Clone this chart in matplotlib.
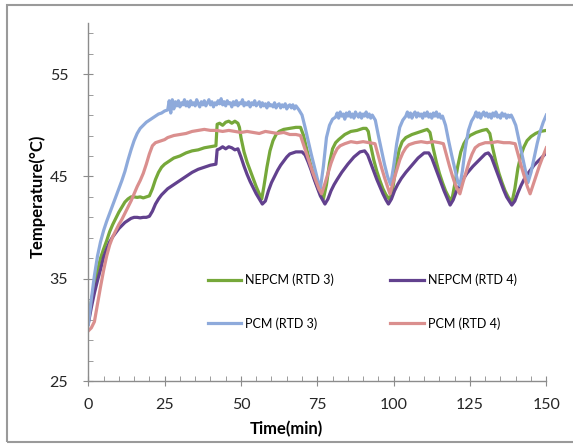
import matplotlib.pyplot as plt
from matplotlib.patches import Rectangle

# PCM (RTD 3) - blue, noisy plateaus, kept in segments
t_pcm3_rise = [0, 1, 2, 3, 4, 5, 6, 7, 8, 9, 10, 11, 12, 13, 14, 15, 16, 17, 18, 19, 20,
               21, 22, 23, 24, 25, 26, 26.5, 27, 27.5]
T_pcm3_rise = [30.5, 33.0, 35.3, 37.2, 38.6, 39.7, 40.6, 41.4, 42.2, 43.0, 43.8, 44.6, 45.5,
               46.6, 47.6, 48.5, 49.2, 49.7, 50.0, 50.3, 50.5,
               50.7, 50.9, 51.1, 51.2, 51.4, 51.5, 52.4, 51.2, 52.5]

t_pcm3_p1 = [28, 28.5, 29, 29.5, 30, 30.5, 31, 31.5, 32, 32.5,
             33, 33.5, 34, 34.5, 35, 35.5, 36, 36.5, 37, 37.5,
             38, 38.5, 39, 39.5, 40, 40.5, 41, 41.5, 42, 42.5,
             43, 43.5, 44, 44.5, 45, 45.5, 46, 46.5, 47, 47.5,
             48, 48.5, 49, 49.5, 50, 50.5, 51, 51.5, 52, 52.5,
             53, 53.5, 54, 54.5, 55, 55.5, 56, 56.5, 57, 57.5,
             58, 58.5, 59, 59.5, 60, 60.5, 61, 61.5, 62, 62.5,
             63, 63.5, 64, 64.5, 65, 65.5, 66, 66.5, 67, 67.5,
             68, 68.5, 69]
T_pcm3_p1 = [51.6, 52.3, 51.9, 52.4, 51.8, 52.2, 52.0, 52.5, 51.9, 52.3,
             51.8, 52.4, 52.0, 52.2, 51.9, 52.5, 52.1, 51.8, 52.3, 52.0,
             52.4, 51.9, 52.2, 52.5, 52.0, 52.3, 51.8, 52.2, 52.0, 52.4,
             52.1, 52.6, 52.0, 52.3, 51.9, 52.4, 52.1, 52.2, 51.8, 52.3,
             52.0, 52.4, 51.9, 52.2, 52.1, 52.5, 51.9, 52.2, 52.0, 52.3,
             51.8, 52.2, 52.0, 52.4, 51.9, 52.1, 52.3, 51.8, 52.2, 51.9,
             52.1, 51.7, 52.2, 51.9, 52.0, 51.8, 52.2, 51.7, 52.0, 52.1,
             51.7, 52.0, 51.8, 52.1, 51.6, 51.9, 52.0, 51.7, 52.0, 51.6,
             51.9, 51.7, 51.5]

t_pcm3_c1 = [70, 71, 72, 73, 74, 75, 76, 77, 78, 79, 80]
T_pcm3_c1 = [51.0, 49.8, 48.5, 47.2, 46.0, 44.8, 43.8, 46.0, 48.8, 50.0, 50.6]

t_pcm3_p2 = [81, 81.5, 82, 82.5, 83, 83.5, 84, 84.5, 85, 85.5,
             86, 86.5, 87, 87.5, 88, 88.5, 89, 89.5, 90, 90.5,
             91, 91.5, 92, 92.5, 93]
T_pcm3_p2 = [50.8, 51.2, 50.7, 51.3, 50.9, 51.1, 50.6, 51.2, 50.9, 51.3,
             50.8, 51.1, 50.7, 51.3, 51.0, 50.8, 51.2, 50.7, 51.1, 50.9,
             51.3, 50.8, 51.1, 50.7, 51.0]

t_pcm3_c2 = [94, 95, 96, 97, 98, 99, 100, 101, 102, 103]
T_pcm3_c2 = [50.5, 49.0, 47.6, 46.2, 45.0, 44.2, 46.0, 48.2, 49.8, 50.5]

t_pcm3_p3 = [104, 104.5, 105, 105.5, 106, 106.5, 107, 107.5, 108, 108.5,
             109, 109.5, 110, 110.5, 111, 111.5, 112, 112.5, 113, 113.5,
             114, 114.5, 115, 115.5, 116]
T_pcm3_p3 = [50.9, 51.3, 50.8, 51.2, 50.7, 51.1, 51.3, 50.8, 51.2, 50.9,
             51.1, 50.7, 51.2, 50.9, 51.3, 50.8, 51.1, 50.7, 51.2, 50.9,
             51.3, 50.8, 51.1, 50.7, 50.9]

t_pcm3_c3 = [117, 118, 119, 120, 121, 121.7, 122.5, 123.5, 124.5, 125.5]
T_pcm3_c3 = [50.0, 48.5, 47.1, 45.8, 44.5, 44.1, 45.5, 47.8, 49.5, 50.4]

t_pcm3_p4 = [126.5, 127, 127.5, 128, 128.5, 129, 129.5, 130, 130.5, 131,
             131.5, 132, 132.5, 133, 133.5, 134, 134.5, 135, 135.5, 136,
             136.5, 137, 137.5, 138, 138.5, 139]
T_pcm3_p4 = [50.9, 51.3, 50.8, 51.2, 50.7, 51.1, 51.3, 50.9, 51.2, 50.8,
             51.1, 50.7, 51.2, 50.9, 51.3, 50.8, 51.0, 50.7, 51.2, 50.9,
             51.1, 50.7, 51.0, 50.8, 51.0, 50.7]

t_pcm3_c4 = [140, 141, 142, 143, 144, 145, 146, 147, 148, 149, 150]
T_pcm3_c4 = [50.0, 48.6, 47.2, 45.8, 44.4, 45.4, 46.8, 48.2, 49.4, 50.3, 51.0]

t_pcm3 = (t_pcm3_rise + t_pcm3_p1 + t_pcm3_c1 + t_pcm3_p2 + t_pcm3_c2 + t_pcm3_p3
          + t_pcm3_c3 + t_pcm3_p4 + t_pcm3_c4)
T_pcm3 = (T_pcm3_rise + T_pcm3_p1 + T_pcm3_c1 + T_pcm3_p2 + T_pcm3_c2 + T_pcm3_p3
          + T_pcm3_c3 + T_pcm3_p4 + T_pcm3_c4)

# NEPCM (RTD 3) - green
t_nepcm3 = [0, 1, 2, 3, 4, 5, 6, 7, 8, 9, 10, 11, 12, 13, 14, 15, 16, 17, 18, 19, 20,
            21, 22, 23, 24, 25, 26, 27, 28, 30, 32, 34, 36, 38, 40, 41.8, 42.2, 43, 44,
            45, 46, 47, 48, 49, 49.5, 50, 51, 52, 53, 54, 55, 56, 56.8, 57.5, 58.5, 59.5,
            60.5, 61.5, 62.5, 64, 66, 68, 69.5, 70.5, 71.5, 72.5, 73.5, 74.5, 75.5, 77,
            78, 79, 80, 81, 82, 84, 86, 88, 90, 91, 91.7, 92.5, 93.5, 94.5, 95.5, 96.5,
            97.5, 98.8, 99.8, 100.8, 101.8, 102.8, 104, 106, 108, 110, 111, 111.9, 113,
            114, 115, 116, 117, 118, 119, 120, 121, 122, 123, 124, 125, 127, 129, 130.5,
            131.5, 132.5, 133.5, 134.5, 135.5, 136.5, 137.5, 138.7, 139.7, 140.7, 141.7,
            142.7, 143.7, 145, 146.5, 148, 150]
T_nepcm3 = [30.8, 32.8, 34.4, 35.8, 37.0, 37.9, 38.7, 39.6, 40.3, 40.9, 41.5, 42.0, 42.5,
            42.8, 43.0, 43.0, 42.95, 43.0, 42.9, 43.0, 43.1, 43.8, 44.7, 45.4, 45.9, 46.2,
            46.4, 46.6, 46.8, 47.0, 47.3, 47.5, 47.6, 47.8, 47.9, 48.0, 50.1, 50.2, 50.0,
            50.3, 50.4, 50.2, 50.4, 50.2, 49.8, 48.8, 47.4, 46.4, 45.6, 44.8, 44.0, 43.3,
            42.8, 44.0, 45.9, 47.5, 48.5, 49.1, 49.4, 49.6, 49.7, 49.8, 49.8, 49.0, 47.7,
            46.5, 45.4, 44.4, 43.6, 42.8, 44.2, 46.3, 47.7, 48.3, 48.6, 49.1, 49.4, 49.5,
            49.7, 49.7, 49.4, 48.0, 46.6, 45.5, 44.6, 43.8, 43.2, 42.7, 44.0, 46.0, 47.6,
            48.4, 48.8, 49.1, 49.3, 49.5, 49.6, 49.3, 47.7, 46.4, 45.3, 44.4, 43.6, 43.0,
            42.6, 44.2, 46.0, 47.4, 48.2, 48.7, 49.0, 49.3, 49.5, 49.6, 49.2, 47.7, 46.4,
            45.3, 44.4, 43.6, 43.0, 42.4, 43.8, 45.8, 47.1, 47.9, 48.5, 48.9, 49.2, 49.4,
            49.5]

# NEPCM (RTD 4) - purple
t_nepcm4 = [0, 1, 2, 3, 4, 5, 6, 7, 8, 9, 10, 11, 12, 13, 14, 15, 16, 17, 18, 19, 20,
            21, 22, 23, 24, 25, 26, 27, 28, 30, 32, 34, 36, 38, 40, 41.8, 42.2, 43, 44,
            45, 46, 47, 48, 49, 50, 51, 52, 53, 54, 55, 56, 57, 58, 59, 60, 61, 62, 63,
            64, 65, 66, 67, 68, 69, 70, 71, 72, 73, 74, 75, 76, 77.5, 78.5, 79.5, 80.5,
            81.5, 83, 85, 87, 89, 90.5, 91.5, 92.5, 93.5, 94.5, 95.5, 96.5, 97.5, 98.3,
            99.3, 100.3, 101.3, 102.5, 104, 106, 108, 110, 111.5, 112.5, 113.5, 114.5,
            115.5, 116.5, 117.5, 118.5, 119.5, 120.5, 121.5, 122.5, 124, 126, 128, 130,
            131, 132, 133, 134, 135, 136, 137, 138.7, 139.7, 140.7, 141.7, 142.7, 144,
            146, 148, 150]
T_nepcm4 = [30.6, 32.2, 33.6, 34.8, 35.9, 37.1, 37.9, 38.6, 39.1, 39.5, 39.9, 40.2, 40.5,
            40.7, 40.9, 41.0, 41.0, 40.95, 41.0, 41.0, 41.1, 41.6, 42.3, 42.8, 43.2, 43.5,
            43.8, 44.0, 44.2, 44.6, 45.0, 45.4, 45.7, 45.9, 46.1, 46.2, 47.6, 47.7, 47.9,
            47.7, 47.9, 47.8, 47.6, 47.7, 46.9, 46.0, 45.2, 44.5, 43.9, 43.3, 42.8, 42.3,
            42.6, 43.6, 44.4, 45.0, 45.6, 46.1, 46.5, 46.9, 47.2, 47.3, 47.4, 47.4, 47.4,
            47.1, 46.4, 45.6, 44.7, 43.9, 43.1, 42.3, 42.8, 43.6, 44.2, 44.7, 45.4, 46.2,
            46.9, 47.4, 47.5, 47.1, 46.3, 45.5, 44.7, 44.0, 43.3, 42.7, 42.3, 42.8, 43.6,
            44.2, 44.8, 45.4, 46.1, 46.8, 47.3, 47.3, 46.8, 46.0, 45.2, 44.4, 43.6, 42.9,
            42.2, 42.7, 43.5, 44.1, 44.6, 45.3, 46.0, 46.6, 47.2, 47.3, 46.9, 46.1, 45.3,
            44.5, 43.7, 43.0, 42.2, 42.6, 43.4, 44.1, 44.7, 45.3, 46.1, 46.7, 47.3]

# PCM (RTD 4) - pink
t_pcm4 = [0, 1, 2, 3, 4, 5, 6, 7, 8, 9, 10, 11, 12, 13, 14, 15, 16, 17, 18, 19, 20, 21,
          22, 23, 24, 25, 26, 27, 28, 30, 32, 34, 36, 38, 40, 42, 44, 46, 48, 50, 52, 54,
          56, 58, 60, 62, 64, 66, 68, 69.5, 70.5, 71.5, 72.5, 73.5, 74.5, 75.5, 76.4,
          77.5, 78.5, 79.5, 80.5, 81.5, 82.5, 84, 86, 88, 90, 92, 93.9, 95, 96, 97, 98,
          98.8, 100, 101, 102, 103, 104, 105, 107, 109, 111, 113, 115, 116.3, 117.3,
          118.3, 119.3, 120.3, 121.7, 122.7, 123.7, 124.7, 125.7, 126.7, 128, 130, 132,
          134, 136, 138, 139.8, 140.8, 141.8, 142.8, 143.8, 144.7, 145.7, 146.7, 147.7,
          148.7, 150]
T_pcm4 = [29.9, 30.2, 30.8, 32.5, 34.2, 35.8, 37.2, 38.3, 39.1, 39.7, 40.3, 40.8, 41.4,
          42.0, 42.6, 43.3, 44.0, 44.6, 45.3, 46.2, 47.2, 48.0, 48.3, 48.4, 48.5, 48.6,
          48.8, 48.9, 49.0, 49.1, 49.2, 49.4, 49.5, 49.6, 49.5, 49.5, 49.4, 49.5, 49.4,
          49.3, 49.4, 49.3, 49.2, 49.4, 49.3, 49.2, 49.3, 49.1, 49.1, 49.0, 48.1, 47.2,
          46.3, 45.4, 44.6, 43.8, 43.3, 44.3, 45.3, 46.3, 47.1, 47.7, 48.0, 48.2, 48.4,
          48.3, 48.4, 48.3, 48.2, 47.0, 45.9, 44.9, 44.0, 43.3, 44.6, 45.6, 46.6, 47.3,
          47.8, 48.1, 48.3, 48.4, 48.3, 48.4, 48.3, 48.2, 47.1, 46.0, 45.0, 44.1, 43.3,
          44.4, 45.4, 46.4, 47.2, 47.8, 48.1, 48.3, 48.3, 48.4, 48.3, 48.3, 48.2, 47.1,
          46.0, 45.0, 44.0, 43.3, 44.2, 45.1, 46.0, 46.8, 47.8]

c_green = "#76a83a"
c_purple = "#62418e"
c_blue = "#8eaadb"
c_pink = "#da8f8e"

plt.rcParams['font.family'] = ['Lato', 'DejaVu Sans']

fig = plt.figure(figsize=(5.73, 4.45), dpi=100)
ax = fig.add_axes([0.1541, 0.1438, 0.7993, 0.8045])

# outer chart frame
fig.patches.append(Rectangle((7 / 573, 3 / 445), 1.2, 437 / 445, transform=fig.transFigure,
                             fill=False, edgecolor="#9a9a9a", linewidth=1.5))

lw = 2.3
l1, = ax.plot(t_nepcm3, T_nepcm3, color=c_green, lw=lw)
l2, = ax.plot(t_nepcm4, T_nepcm4, color=c_purple, lw=lw)
l3, = ax.plot(t_pcm3, T_pcm3, color=c_blue, lw=lw)
l4, = ax.plot(t_pcm4, T_pcm4, color=c_pink, lw=lw)

ax.set_xlim(0, 150)
ax.set_ylim(25, 60)
ax.set_xticks([0, 25, 50, 75, 100, 125, 150])
ax.set_xticks(range(0, 151, 5), minor=True)
ax.set_yticks([25, 35, 45, 55])
ax.set_yticks(range(25, 61, 2), minor=True)

for s in ["top", "right"]:
    ax.spines[s].set_visible(False)
for s in ["left", "bottom"]:
    ax.spines[s].set_color("#8c8c8c")
    ax.spines[s].set_linewidth(1.0)

ax.tick_params(which="major", direction="inout", length=7, color="#8c8c8c",
               labelsize=11.5, labelcolor="#262626")
ax.tick_params(axis="y", which="major", pad=11)
ax.tick_params(axis="x", which="major", pad=9)
ax.tick_params(which="minor", direction="in", length=3.5, color="#8c8c8c")

ax.set_xlabel("Time(min)", fontsize=12, fontweight="bold")
ax.set_ylabel("Temperature(°C)", fontsize=12, fontweight="bold")
ax.xaxis.set_label_coords(0.432, -0.112)
ax.yaxis.set_label_coords(-0.093, 0.516)

ax.legend([l1, l3, l2, l4], ["NEPCM (RTD 3)", "PCM (RTD 3)", "NEPCM (RTD 4)", "PCM (RTD 4)"],
          ncol=2, loc="center", bbox_to_anchor=(0.598, 0.222), frameon=False,
          fontsize=9, handlelength=2.7, handletextpad=0.3, columnspacing=4.5,
          labelspacing=2.5)

fig.savefig("out.png", dpi=100)
